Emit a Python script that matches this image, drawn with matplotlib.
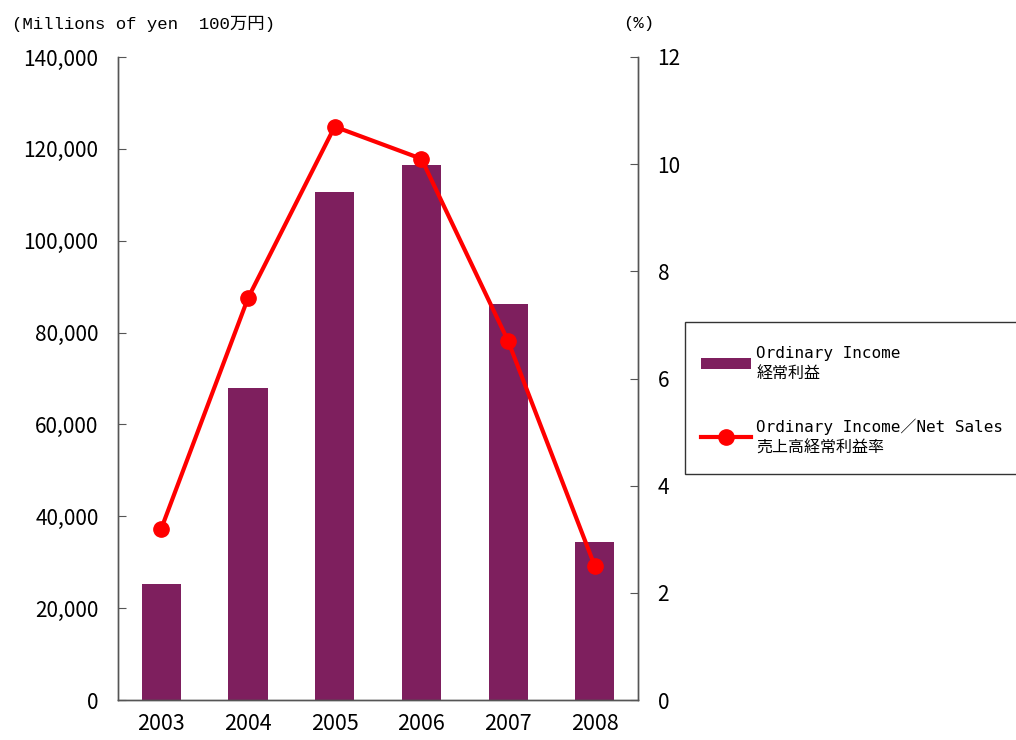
import matplotlib
matplotlib.use("Agg")
import matplotlib.pyplot as plt
from matplotlib.patches import Rectangle
from matplotlib.ticker import FuncFormatter

plt.rcParams['font.family'] = ['Noto Sans CJK JP', 'DejaVu Sans']

years = ["2003", "2004", "2005", "2006", "2007", "2008"]
income = [25300, 68000, 110600, 116500, 86200, 34400]
ratio = [3.2, 7.5, 10.7, 10.1, 6.7, 2.5]

bar_color = "#7E1F5E"
line_color = "#FF0000"
spine_color = "#555555"

fig = plt.figure(figsize=(10.16, 7.40), dpi=100)
ax = fig.add_axes([0.1161, 0.054, 0.512, 0.869])
ax2 = ax.twinx()

x = list(range(len(years)))
bars = ax.bar(x, income, width=0.45, color=bar_color, zorder=2)
line, = ax2.plot(x, ratio, color=line_color, lw=3, marker="o", markersize=11, zorder=3)

ax.set_xlim(-0.5, len(years) - 0.5)
ax.set_ylim(0, 140000)
ax.set_yticks(range(0, 140001, 20000))
ax.yaxis.set_major_formatter(FuncFormatter(lambda v, p: f"{int(v):,}"))
ax2.set_ylim(0, 12)
ax2.set_yticks(range(0, 13, 2))

ax.set_xticks(x)
ax.set_xticklabels(years)

for a in (ax, ax2):
    a.spines["top"].set_visible(False)
    for s in ("left", "right", "bottom"):
        a.spines[s].set_color(spine_color)
        a.spines[s].set_linewidth(1)
    a.tick_params(axis="y", direction="in", length=6, color=spine_color, labelsize=15, pad=14)

ax.tick_params(axis="x", length=0, labelsize=15.5, pad=9)
ax2.patch.set_visible(False)

head_font = ['Liberation Mono', 'Noto Sans CJK JP']
fig.text(0.012, 0.968, "(Millions of yen  100万円)", fontsize=12.5,
         family=head_font, va="center", ha="left")
fig.text(0.613, 0.968, "(%)", fontsize=12.5,
         family=head_font, va="center", ha="left")

# legend box runs to the right edge
fig.patches.append(Rectangle((0.674, 0.3595), 0.34, 0.2054, transform=fig.transFigure,
                             facecolor="white", edgecolor="#333333", lw=1))

leg = fig.legend([bars, line],
                 ["Ordinary Income\n経常利益", "Ordinary Income／Net Sales\n売上高経常利益率"],
                 loc="upper left", bbox_to_anchor=(0.690, 0.533),
                 prop={"family": ['DejaVu Sans Mono', 'Noto Sans CJK JP'], "size": 11.5},
                 frameon=False, handlelength=3.1, handletextpad=0.35,
                 labelspacing=2.35, borderpad=0, borderaxespad=0)
for t in leg.get_texts():
    t.set_linespacing(1.45)

fig.savefig("out.png", dpi=100)
